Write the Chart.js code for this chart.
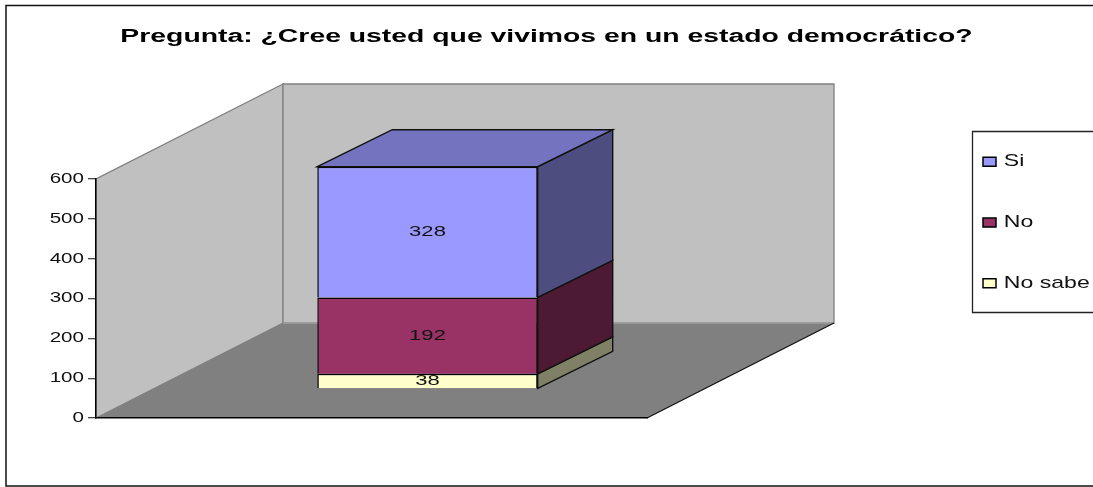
<!DOCTYPE html>
<html lang="es">
<head>
<meta charset="utf-8">
<title>Pregunta</title>
<script src="https://cdn.jsdelivr.net/npm/chart.js@4"></script>
<style>
    html, body { margin: 0; padding: 0; background: #fff; }
    canvas { display: block; }
</style>
</head>
<body>
<canvas id="chart" width="1093" height="487"></canvas>
<script>
const titleText  = "Pregunta: ¿Cree usted que vivimos en un estado democrático?";
const categories = [""];
const noSabe     = [38];
const no         = [192];
const si         = [328];
const yMax       = 600;
const yStep      = 100;

const FONT = "'Liberation Sans', Arial, sans-serif";

// excel style 3d box, all offsets in px
const WALL  = { dx: 187, dy: -95 };
const SHIFT = { dx: 56,  dy: -29 };   // bar sits a bit into the floor
const BOX   = { dx: 75,  dy: -37 };

const canvas = document.getElementById("chart");
const ctx    = canvas.getContext("2d");

// the source picture has its text stretched sideways, the title a bit more
const _fillText = ctx.fillText.bind(ctx);
ctx.fillText = (s, x, y) => {
    const k = ctx.font.startsWith("bold") ? 1.62 : 1.47;
    ctx.save();
    ctx.translate(x, y);
    ctx.scale(k, 1);
    _fillText(s, 0, 0);
    ctx.restore();
};

function poly(c, pts, fill, stroke, width) {
    c.beginPath();
    pts.forEach((p, i) => (i ? c.lineTo(p[0], p[1]) : c.moveTo(p[0], p[1])));
    c.closePath();
    if (fill) { c.fillStyle = fill; c.fill(); }
    if (stroke) { c.strokeStyle = stroke; c.lineWidth = width || 1; c.stroke(); }
}

const box3d = {
    id: "box3d",
    beforeDraw(chart) {
        const c = chart.ctx;
        const { left, right, top, bottom } = chart.chartArea;
        const d = WALL;

        // outer frame, no right side in the source
        c.save();
        c.strokeStyle = "#111";
        c.lineWidth = 1.5;
        c.beginPath();
        c.moveTo(1093, 5.5); c.lineTo(6, 5.5); c.lineTo(6, 486); c.lineTo(1093, 486);
        c.stroke();

        // legend frame
        c.lineWidth = 1.3;
        c.strokeStyle = "#222";
        c.beginPath();
        c.moveTo(1093, 131.5); c.lineTo(972.5, 131.5); c.lineTo(972.5, 312.5); c.lineTo(1093, 312.5);
        c.stroke();

        poly(c, [[left, bottom], [left, top], [left + d.dx, top + d.dy], [left + d.dx, bottom + d.dy]], "#c0c0c0", "#808080", 1.3);
        poly(c, [[left + d.dx, top + d.dy], [right + d.dx, top + d.dy], [right + d.dx, bottom + d.dy], [left + d.dx, bottom + d.dy]], "#c0c0c0", "#808080", 1.3);
        poly(c, [[left, bottom], [left + d.dx, bottom + d.dy], [right + d.dx, bottom + d.dy], [right, bottom]], "#808080");
        c.strokeStyle = "#a0a0a0";
        c.beginPath();
        c.moveTo(left + d.dx, bottom + d.dy); c.lineTo(right + d.dx, bottom + d.dy);
        c.stroke();
        c.strokeStyle = "#111";
        c.beginPath();
        c.moveTo(right, bottom); c.lineTo(right + d.dx, bottom + d.dy);
        c.stroke();
        c.restore();

        // title centred on the page, legend moved out of the plot
        const t = chart.titleBlock;
        t.left = 0; t.right = chart.width;
        const lg = chart.legend;
        lg.left = 938; lg.top = 109; lg.right = 1093; lg.bottom = 420;
    },
    beforeDatasetsDraw(chart) {
        chart.ctx.save();
        chart.ctx.translate(SHIFT.dx, SHIFT.dy);
    },
    afterDatasetsDraw(chart) {
        const c = chart.ctx;
        const { dx, dy } = BOX;

        chart.data.datasets.forEach((ds, i) => {
            const el = chart.getDatasetMeta(i).data[0];
            const r = el.x + el.width / 2;
            const l = el.x - el.width / 2;
            poly(c, [[r, el.y], [r + dx, el.y + dy], [r + dx, el.base + dy], [r, el.base]], ds.sideColor, "#111", 1.4);
            if (ds.topColor) {
                poly(c, [[l, el.y], [l + dx, el.y + dy], [r + dx, el.y + dy], [r, el.y]], ds.topColor, "#111", 1.4);
            }
        });

        c.fillStyle = "#111";
        c.font = `15px ${FONT}`;
        c.textAlign = "center";
        c.textBaseline = "middle";
        chart.data.datasets.forEach((ds, i) => {
            const el = chart.getDatasetMeta(i).data[0];
            c.fillText(String(ds.data[0]), el.x, (el.y + el.base) / 2);
        });
        c.restore();
    }
};

new Chart(ctx, {
    type: "bar",
    data: {
        labels: categories,
        datasets: [
            { label: "No sabe", data: noSabe, backgroundColor: "#ffffcc", sideColor: "#808066" },
            { label: "No",      data: no,     backgroundColor: "#993366", sideColor: "#4d1a33" },
            { label: "Si",      data: si,     backgroundColor: "#9999ff", sideColor: "#4d4d80", topColor: "#7373bf" }
        ].map(d => ({ ...d, borderColor: "#000", borderWidth: 1.5, barPercentage: 0.4, categoryPercentage: 1, clip: false }))
    },
    plugins: [box3d],
    options: {
        responsive: false,
        animation : false,
        layout    : { autoPadding: false, padding: { left: 0, top: 0, right: 446, bottom: 69 } },
        plugins: {
            tooltip: { enabled: false },
            title: {
                display: true,
                text   : titleText,
                color  : "#000",
                font   : { family: FONT, size: 17.5, weight: "bold", lineHeight: 1.2 },
                padding: { top: 27, bottom: 131 }
            },
            legend: {
                position: "chartArea",
                align   : "start",
                reverse : true,
                labels  : {
                    color    : "#111",
                    font     : { family: FONT, size: 15.7 },
                    boxWidth : 13,
                    boxHeight: 9,
                    padding  : 45
                }
            }
        },
        scales: {
            x: {
                stacked: true,
                ticks  : { display: false },
                grid   : { display: false },
                border : { color: "#000", width: 1.5 },
                afterFit: s => { s.height = 0; }
            },
            y: {
                stacked: true,
                min    : 0,
                max    : yMax,
                ticks  : { stepSize: yStep, color: "#111", padding: 4, font: { family: FONT, size: 14 } },
                grid   : { drawOnChartArea: false, tickLength: 8, color: "#444", lineWidth: 1.3 },
                border : { color: "#000", width: 1.5 },
                afterFit: s => { s.width = 96; }
            }
        }
    }
});
</script>
</body>
</html>
